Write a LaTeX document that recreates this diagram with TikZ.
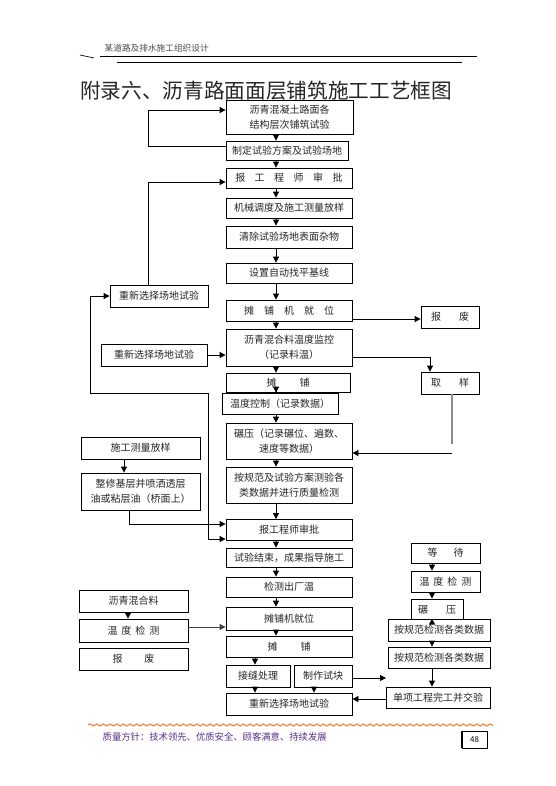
\documentclass[tikz,border=0pt]{standalone}
\usepackage{fontspec}
\setmainfont{Noto Sans CJK SC}
\usetikzlibrary{arrows.meta,decorations.pathmorphing,calc}
\newcommand\zg[1]{\hspace{#1em}}
\definecolor{footc}{RGB}{90,50,140}
\definecolor{wavec}{RGB}{240,130,50}
\begin{document}
\begin{tikzpicture}[x=0.75pt,y=-0.75pt,
  bx/.style={draw=black, line width=0.6pt, fill=white, inner sep=0pt, align=center,
             font=\fontsize{7.5}{11.5}\selectfont, text=black!85},
  wh/.style 2 args={minimum width=#1*0.75pt, minimum height=#2*0.75pt},
  arr/.style={line width=0.6pt, -{Triangle[length=4.5pt,width=4.5pt]}},
  darr/.style={line width=0.6pt, {Triangle[length=4.5pt,width=4.5pt]}-{Triangle[length=4.5pt,width=4.5pt]}},
  ln/.style={line width=0.6pt}]
\useasboundingbox[fill=white] (0,0) rectangle (556,786);

% header
\node[font=\fontsize{6.5}{7}\selectfont, text=black!70, anchor=west] (hdr) at (100,48) {某道路及排水施工组织设计};
\draw[line width=0.5pt] (100,56) -- (477,56);
\draw[line width=0.5pt] (80,55) -- (94,58);
\draw[line width=0.7pt] (117,62) -- (462,62);
\node[font=\fontsize{15.5}{16}\selectfont, text=black!85] (title) at (266,91) {附录六、沥青路面面层铺筑施工工艺框图};

% main column
\node[bx, wh={127}{34}] (m1) at (289.5,117) {沥青混凝土路面各\\结构层次铺筑试验};
\node[bx, wh={122}{19}] (m2) at (287,150.5) {制定试验方案及试验场地};
\node[bx, wh={126}{20}] (m3) at (289,178) {报\zg{0.95}工\zg{0.95}程\zg{0.95}师\zg{0.95}审\zg{0.95}批};
\node[bx, wh={126}{20}] (m4) at (289,208) {机械调度及施工测量放样};
\node[bx, wh={126}{22}] (m5) at (289,237) {清除试验场地表面杂物};
\node[bx, wh={126}{20}] (m6) at (289,273) {设置自动找平基线};
\node[bx, wh={126}{21}] (m7) at (289,310.5) {摊\zg{1}铺\zg{1}机\zg{1}就\zg{1}位};
\node[bx, wh={126}{37}] (m8) at (289,347.5) {沥青混合料温度监控\\（记录料温）};
\node[bx, wh={124}{19}] (m9) at (288,382.5) {摊\zg{2.3}铺};
\node[bx, wh={116}{21}] (m10) at (280,403.5) {温度控制（记录数据）};
\node[bx, wh={126}{36}] (m11) at (289,441) {碾压（记录碾位、遍数、\\速度等数据）};
\node[bx, wh={126}{36}] (m12) at (289,485) {按规范及试验方案测验各\\类数据并进行质量检测};
\node[bx, wh={126}{21}] (m13) at (289,530) {报工程师审批};
\node[bx, wh={126}{19}] (m14) at (289,557.5) {试验结束，成果指导施工};
\node[bx, wh={126}{20}] (m15) at (289,587) {检测出厂温};
\node[bx, wh={126}{23}] (m16) at (289,618.5) {摊铺机就位};
\node[bx, wh={126}{21}] (m17) at (289,646.5) {摊\zg{2.3}铺};
\node[bx, wh={64}{22}] (m18) at (258,676) {接缝处理};
\node[bx, wh={58}{22}] (m19) at (323,676) {制作试块};
\node[bx, wh={126}{22}] (m20) at (289,704) {重新选择场地试验};

% left column
\node[bx, wh={98}{22}] (L1) at (159,296) {重新选择场地试验};
\node[bx, wh={106}{22}] (L2) at (154,355) {重新选择场地试验};
\node[bx, wh={119}{22}] (L3) at (140.5,448) {施工测量放样};
\node[bx, wh={119}{37}] (L4) at (140.5,491.5) {整修基层并喷洒透层\\油或粘层油（桥面上）};

% right column
\node[bx, wh={58}{22}] (R1) at (450,317) {报\zg{1.8}废};
\node[bx, wh={58}{22}] (R2) at (450,383) {取\zg{1.8}样};
\node[bx, wh={69}{20}] (R3) at (445.5,553) {等\zg{1.6}待};
\node[bx, wh={69}{21}] (R4) at (445.5,581.5) {温\zg{0.4}度\zg{0.4}检\zg{0.4}测};
\node[bx, wh={52}{21}] (R5) at (437,609.5) {碾\zg{1.8}压};
\node[bx, wh={102}{22}] (R6) at (439,630) {按规范检测各类数据};
\node[bx, wh={102}{21}] (R7) at (439,657.5) {按规范检测各类数据};
\node[bx, wh={104}{21}] (R8) at (438,697.5) {单项工程完工并交验};

% bottom-left column
\node[bx, wh={109}{22}] (B1) at (133.5,601) {沥青混合料};
\node[bx, wh={109}{23}] (B2) at (133.5,630.5) {温\zg{0.4}度\zg{0.4}检\zg{0.4}测};
\node[bx, wh={109}{22}] (B3) at (133.5,659) {报\zg{2.2}废};

% helper coordinates
\coordinate (xm) at (276,0);
\coordinate (x255) at (255,0);
\coordinate (x314) at (314,0);
\coordinate (c1) at (148,110);
\coordinate (c0) at (148,146);
\coordinate (c2) at (148,182);
\coordinate (c3) at (90,393);
\coordinate (c4) at (208,393);
\coordinate (c5) at (208,539);
\coordinate (xL) at (124,0);
\coordinate (yR1) at (0,319);
\coordinate (c7) at (430,357);
\coordinate (c8) at (452,453);
\coordinate (c9) at (452,444);
\coordinate (c10) at (129,524);
\coordinate (xB) at (128,0);
\coordinate (yB) at (0,627);
\coordinate (c11) at (386,678);
\coordinate (yR8) at (0,699);
\coordinate (xR) at (432,0);

% main chain arrows
\foreach \a/\b in {m1/m2,m2/m3,m3/m4,m4/m5,m5/m6,m6/m7,m7/m8,m8/m9,m9/m10,m10/m11,m11/m12,m12/m13,m13/m14,m14/m15,m15/m16,m16/m17}
  \draw[arr] (\a.south -| xm) -- (\b.north -| xm);
\draw[arr] (m17.south -| x255) -- (m18.north -| x255);
\draw[arr] (m18.south -| x255) -- (m20.north -| x255);
\draw[arr] (m19.south -| x314) -- (m20.north -| x314);

% left loops
\draw[arr] (c0 -| m2.west) -- (c0) -- (c1) -- (c1 -| m1.west);
\draw[arr] (c2 |- L1.north) -- (c2) -- (c2 -| m3.west);
\draw[darr] (c5 -| m13.west) -- (c5) -- (c4) -- (c3) -- (c3 |- L1.west) -- (L1.west);
\draw[arr] (L2.east) -- (L2.east -| m8.west);
\draw[arr] (L3.south -| xL) -- (L4.north -| xL);
\draw[arr] (c10 |- L4.south) -- (c10) -- (c10 -| m13.west);

% right side
\draw[arr] (m7.east |- yR1) -- (R1.west |- yR1);
\draw[arr] (m8.east |- c7) -- (c7) -- (c7 |- R2.north);
\draw[line width=0.8pt, black!45] (c9 |- R2.south) -- (c9);
\draw[arr] (c8) -- (c8 -| m11.east);
\foreach \a/\b in {R3/R4,R4/R5,R5/R6,R6/R7,R7/R8}
  \draw[arr] (\a.south -| xR) -- (\b.north -| xR);
\draw[arr] (m19.east |- c11) -- (c11);
\draw[arr] (R8.west |- yR8) -- (m20.east |- yR8);

% bottom-left
\draw[arr] (B1.south -| xB) -- (B2.north -| xB);
\draw[arr, black!75] (B2.east |- yB) -- (m16.west |- yB);

% footer
\draw[wavec, line width=0.8pt, decorate, decoration={snake, amplitude=0.8pt, segment length=5pt}] (88,725) -- (493,725);
\node[anchor=west, font=\fontsize{7}{8}\selectfont, text=footc] (foot) at (98,737) {质量方针：技术领先、优质安全、顾客满意、持续发展};
\node[draw, line width=0.5pt, wh={25}{17}, inner sep=0pt, font=\fontsize{6}{6}\selectfont] (pg) at (474.5,739.5) {48};
\draw[line width=1.2pt] (pg.north west) -- (pg.south west);
\end{tikzpicture}
\end{document}
